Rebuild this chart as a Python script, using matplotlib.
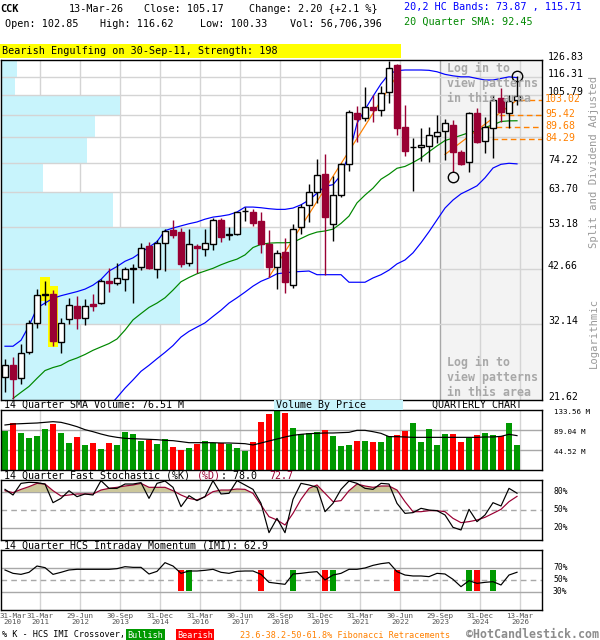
import numpy as np
import matplotlib
matplotlib.use("Agg")
import matplotlib.pyplot as plt
import matplotlib.transforms as mtransforms
from matplotlib.patches import Rectangle

plt.rcParams["font.family"] = ["DejaVu Sans Mono", "DejaVu Sans"]

# ---------------- CCK quarterly data, Q1 2010 .. Q1 2026 ----------------
opens = [24.4, 26.0, 24.2, 27.7, 32.3, 37.3, 37.5, 29.2, 32.9, 35.3,
         33.2, 35.6, 35.9, 40.2, 39.8, 40.5, 42.8, 43.1, 48.2, 42.8,
         49.0, 52.4, 51.9, 44.2, 48.1, 47.4, 48.6, 55.2, 51.0, 51.2,
         57.7, 57.5, 54.9, 48.8, 43.1, 46.6, 39.4, 53.3, 59.7, 63.7,
         70.0, 53.9, 62.8, 74.0, 96.3, 93.8, 99.5, 97.8, 107.1, 123.5,
         89.7, 80.5, 80.8, 81.1, 85.4, 87.5, 90.3, 78.7, 74.7, 96.1,
         83.1, 89.0, 104.0, 96.4, 102.85]
highs = [26.7, 27.0, 29.0, 32.8, 38.5, 40.2, 38.3, 33.1, 36.7, 37.1,
         36.5, 37.5, 40.6, 42.9, 44.0, 43.1, 43.8, 48.9, 49.3, 49.7,
         52.7, 55.2, 52.9, 52.6, 48.8, 52.6, 55.7, 55.7, 53.2, 57.6,
         59.0, 58.3, 57.4, 52.4, 47.2, 50.2, 54.1, 60.0, 66.4, 75.8,
         77.7, 69.3, 74.3, 97.8, 100.0, 110.0, 105.8, 110.5, 126.2, 124.5,
         100.4, 84.4, 89.0, 89.4, 95.3, 93.2, 92.8, 79.4, 96.9, 98.7,
         94.4, 105.8, 109.4, 105.8, 116.62]
lows = [22.5, 21.7, 23.5, 27.4, 31.5, 35.4, 28.6, 27.6, 32.1, 31.3,
        31.9, 34.3, 35.6, 37.9, 39.3, 38.2, 35.9, 42.5, 42.8, 40.8,
        42.3, 50.2, 43.1, 43.5, 41.8, 45.8, 47.2, 49.3, 49.7, 51.0,
        54.9, 53.5, 46.5, 41.0, 38.6, 37.7, 38.8, 51.4, 54.7, 60.4,
        41.5, 49.4, 62.3, 71.3, 82.9, 92.4, 92.0, 94.9, 101.3, 85.8,
        77.0, 64.1, 74.8, 74.6, 82.4, 75.4, 70.8, 73.4, 70.8, 82.4,
        78.0, 76.2, 92.0, 89.0, 100.33]
closes = [26.0, 24.1, 27.6, 32.2, 37.3, 37.5, 29.4, 32.3, 35.5, 33.1,
          35.3, 35.3, 40.1, 39.7, 40.7, 42.7, 43.0, 47.8, 42.9, 49.0,
          52.1, 50.9, 43.9, 48.8, 47.7, 49.0, 55.2, 50.6, 51.2, 57.4,
          57.9, 54.3, 48.6, 43.1, 46.5, 40.0, 52.6, 59.1, 63.7, 69.6,
          56.0, 62.8, 73.7, 96.9, 93.2, 99.3, 97.8, 107.0, 121.5, 89.0,
          79.0, 80.8, 81.5, 85.8, 87.2, 91.3, 78.7, 74.0, 96.1, 82.6,
          89.4, 103.0, 96.9, 102.6, 105.17]

# volume in millions of shares and its 14-quarter average
volume_m = [87.6, 103.9, 83.1, 72.0, 76.4, 92.0, 102.4, 82.4, 60.1, 73.5,
            55.7, 60.1, 47.5, 60.1, 55.7, 84.6, 80.1, 64.6, 66.8, 57.9,
            69.0, 51.2, 44.5, 49.0, 58.6, 64.6, 60.8, 60.8, 57.9, 49.0,
            43.0, 62.3, 106.8, 124.7, 133.6, 126.9, 93.5, 80.1, 82.4, 84.6,
            89.0, 75.7, 53.4, 55.7, 65.3, 65.3, 62.3, 62.3, 75.7, 77.9,
            87.6, 104.6, 62.3, 92.0, 55.7, 80.1, 80.1, 62.3, 72.0, 77.9,
            82.4, 77.9, 76.4, 104.6, 56.7]
volume_sma_m = [100.2, 102.4, 103.1, 103.9, 104.6, 106.1, 107.6, 106.1, 101.7, 96.5,
                89.8, 85.3, 80.1, 75.7, 72.7, 70.5, 69.7, 69.0, 68.3, 67.5,
                66.0, 65.3, 63.1, 60.8, 60.8, 60.8, 60.8, 60.1, 60.1, 59.4,
                58.6, 55.7, 60.1, 64.6, 69.0, 73.5, 77.2, 79.4, 80.9, 81.6,
                82.4, 82.4, 83.1, 83.8, 88.3, 88.3, 85.3, 81.6, 74.2, 74.2,
                73.5, 72.7, 72.7, 72.7, 72.7, 72.7, 72.7, 72.7, 72.7, 72.7,
                73.5, 73.5, 74.9, 79.4, 76.51]

# 20,2 HC bands and 20-quarter SMA
upper_band = [28.6, 28.6, 29.5, 31.8, 34.9, 35.8, 36.7, 37.2, 37.6, 38.0,
              38.5, 39.3, 40.5, 42.3, 43.3, 44.5, 45.3, 46.6, 47.9, 49.3,
              52.2, 52.9, 53.5, 54.1, 54.6, 55.4, 56.0, 56.3, 56.7, 57.5,
              59.0, 59.0, 58.8, 58.5, 58.3, 58.3, 58.7, 59.7, 61.2, 63.4,
              65.7, 66.3, 69.7, 77.6, 91.2, 98.0, 105.0, 112.0, 118.0, 120.0,
              120.4, 120.4, 120.4, 120.2, 119.3, 117.7, 116.8, 116.2, 116.2, 115.2,
              114.3, 114.3, 115.2, 116.2, 115.71]
lower_band = [np.nan] * 13 + [
              20.9, 21.9, 23.0, 24.0, 25.1, 25.9, 26.8, 27.7, 28.7, 30.0,
              30.9, 31.6, 32.3, 33.4, 34.5, 35.8, 36.8, 37.9, 39.1, 40.1,
              40.8, 41.7, 41.9, 42.1, 42.2, 42.3, 41.5, 41.5, 41.5, 41.5,
              39.9, 39.9, 39.9, 40.8, 41.5, 42.5, 43.9, 44.8, 46.5, 49.0,
              51.9, 55.2, 58.7, 61.2, 63.2, 64.5, 65.9, 68.7, 72.3, 73.7,
              74.1, 73.87]
sma20 = [np.nan, 21.8, 22.5, 23.2, 24.2, 25.2, 25.6, 25.9, 26.5, 26.9,
         27.4, 28.0, 28.5, 29.0, 29.7, 31.1, 32.8, 33.9, 35.0, 35.8,
         36.8, 38.3, 40.0, 40.9, 41.7, 42.3, 42.9, 43.7, 44.4, 45.0,
         46.0, 47.8, 48.6, 48.9, 49.0, 49.0, 49.1, 50.1, 51.1, 51.8,
         52.1, 52.6, 54.2, 56.3, 60.3, 62.8, 65.1, 68.2, 70.0, 72.2,
         72.9, 74.4, 76.2, 78.7, 81.1, 83.4, 84.5, 85.7, 86.9, 87.8,
         89.3, 90.5, 92.1, 92.4, 92.45]

# 14-quarter fast stochastic and HCS intraday momentum
stoch_k = [84.4, 75.0, 94.4, 96.1, 95.6, 93.3, 62.2, 69.4, 82.2, 72.2,
           76.7, 75.0, 98.9, 86.1, 86.1, 93.3, 93.3, 95.6, 69.4, 94.4,
           98.3, 87.8, 55.6, 73.9, 65.6, 72.2, 98.9, 76.7, 77.8, 98.9,
           91.7, 84.4, 61.1, 12.2, 36.1, 12.2, 67.8, 94.4, 91.7, 87.8,
           47.2, 61.1, 84.4, 98.3, 94.4, 86.1, 84.4, 94.4, 93.3, 61.1,
           44.4, 45.6, 52.8, 50.0, 48.9, 41.7, 21.1, 16.7, 51.1, 30.6,
           41.7, 62.2, 56.7, 86.1, 78.0]
stoch_d = [82.2, 78.9, 84.4, 88.9, 94.4, 93.3, 82.2, 73.3, 75.0, 76.7,
           76.7, 76.7, 83.3, 86.1, 87.8, 90.0, 91.7, 94.4, 87.8, 87.8,
           87.8, 82.2, 75.0, 69.4, 66.7, 72.2, 80.6, 83.3, 83.3, 85.0,
           84.4, 77.8, 58.3, 38.9, 33.3, 25.0, 44.4, 67.8, 86.1, 91.7,
           77.8, 63.9, 65.6, 82.2, 93.3, 90.0, 87.8, 90.0, 90.0, 83.3,
           63.9, 47.2, 47.2, 48.9, 48.9, 47.2, 36.1, 28.9, 30.6, 33.3,
           37.8, 44.4, 51.1, 63.9, 72.7]
imi = [66.7, 61.1, 59.4, 62.8, 73.3, 70.6, 59.4, 62.8, 66.7, 67.8,
       67.8, 67.8, 67.8, 67.8, 68.9, 72.2, 71.1, 71.1, 60.0, 64.4,
       78.9, 73.3, 61.1, 65.0, 65.0, 66.1, 67.8, 62.8, 61.1, 64.4,
       65.0, 65.0, 59.4, 46.1, 44.4, 42.8, 60.0, 61.1, 62.8, 63.9,
       50.0, 58.3, 61.1, 67.8, 67.8, 70.0, 74.4, 77.2, 78.9, 63.9,
       58.3, 56.7, 56.7, 55.6, 61.1, 60.0, 51.1, 38.9, 48.9, 44.4,
       46.1, 47.2, 41.7, 58.3, 62.9]
bull_cross = [23, 36, 41, 58, 61]
bear_cross = [22, 32, 40, 49, 59]

# volume by price: share of traded volume per price bin (bottom to top)
vbp_share = [7.9, 17.8, 26.2, 11.2, 4.2, 8.6, 9.4, 11.9, 1.4, 1.6]

# price axis levels and Fibonacci retracements
price_levels = [21.62, 32.14, 42.66, 53.18, 63.70, 74.22, 84.74, 95.26, 105.79, 116.31, 126.83]
price_labels = ["21.62", "32.14", "42.66", "53.18", "63.70", "74.22", "", "", "105.79", "116.31", "126.83"]
fib_levels = [103.02, 95.42, 89.68, 84.29]
fib_start = [64.4, 60.6, 60.2, 59.7]

trend_x = [[33, 49], [55, 64]]
trend_y = [[41.0, 117.0], [77.6, 103.0]]

tick_pos = [0, 4, 9, 14, 19, 24, 29, 34, 39, 44, 49, 54, 59, 64]
tick_labels = ["31-Mar\n2010", "31-Mar\n2011", "29-Jun\n2012", "30-Sep\n2013", "31-Dec\n2014",
               "31-Mar\n2016", "30-Jun\n2017", "28-Sep\n2018", "31-Dec\n2019", "31-Mar\n2021",
               "30-Jun\n2022", "29-Sep\n2023", "31-Dec\n2024", "13-Mar\n2026"]

# ---------------- drawing ----------------
W, H = 600, 640
fig = plt.figure(figsize=(W / 100, H / 100), dpi=100)
fig.patch.set_facecolor("white")

CANDLE_RED = "#990033"
VOL_GREEN = "#009900"
VOL_RED = "#FF0000"
GRID = "#D4D4D4"
GRID_DARK = "#A8A8A8"
CYAN = "#C8F4FC"
ORANGE = "#FF8000"
PX = 0.72  # one pixel in points

n = len(closes)
idx = np.arange(n)
XL = (-0.5, 67.125)
vgrid = [p + 0.375 for p in tick_pos[1:]]


def panel(x0, y0, x1, y1):
    a = fig.add_axes([x0 / W, 1 - y1 / H, (x1 - x0) / W, (y1 - y0) / H])
    a.set_xlim(*XL)
    a.set_xticks([])
    a.set_yticks([])
    for s in a.spines.values():
        s.set_linewidth(1.4 * PX)
        s.set_color("black")
        s.set_zorder(20)
    return a


def ftext(x, y, s, **kw):
    kw.setdefault("va", "center")
    return fig.text(x / W, 1 - y / H, s, **kw)


# ---- header ----
ftext(0, 9, "CCK", fontsize=7.4, fontweight="bold")
ftext(69, 9, "13-Mar-26", fontsize=7.3)
ftext(144, 9, "Close: 105.17", fontsize=7.3)
ftext(249, 9, "Change: 2.20 {+2.1 %}", fontsize=7.3)
ftext(5, 24, "Open: 102.85", fontsize=7.3)
ftext(100, 24, "High: 116.62", fontsize=7.3)
ftext(200, 24, "Low: 100.33", fontsize=7.3)
ftext(290, 24, "Vol: 56,706,396", fontsize=7.3)
ftext(404, 7, "20,2 HC Bands: 73.87 , 115.71", fontsize=7.3, color="#0000FF")
ftext(404, 22, "20 Quarter SMA: 92.45", fontsize=7.3, color="#008800")
fig.patches.append(Rectangle((0, 1 - 58 / H), 401 / W, 13.5 / H, transform=fig.transFigure,
                             facecolor="#FFFF00", edgecolor="none", zorder=0))
ftext(2, 51.5, "Bearish Engulfing on 30-Sep-11, Strength: 198", fontsize=7.3)

# ---- main price panel ----
ax = panel(1, 60, 542, 400)
ax.set_yscale("log")
ax.set_ylim(price_levels[0], price_levels[-1])
ax.yaxis.set_minor_locator(matplotlib.ticker.NullLocator())
ax.set_yticks([])

blend = mtransforms.blended_transform_factory(ax.transAxes, ax.transData)
xaxis_frac = mtransforms.blended_transform_factory(ax.transData, ax.transAxes)

# shaded area at the right
ax.add_patch(Rectangle((54.375, 0), XL[1] - 54.375, 1, transform=xaxis_frac,
                       facecolor="#F3F3F3", edgecolor="none", zorder=0.2))
for g in vgrid:
    ax.axvline(g, color=GRID_DARK if g == 54.375 else GRID, lw=1.4 * PX, zorder=0.5)

# volume by price bins
vmax = max(vbp_share)
for k, share in enumerate(vbp_share):
    lo, hi = price_levels[k], price_levels[k + 1]
    ax.add_patch(Rectangle((0, lo), share / vmax * 0.486, hi - lo, transform=blend,
                           facecolor=CYAN, edgecolor="none", zorder=0.8))
for lv in price_levels[1:-1]:
    ax.axhline(lv, color=GRID, lw=1.4 * PX, zorder=1)

# highlighted engulfing pattern
for j in (5, 6):
    ax.add_patch(Rectangle((j - 0.62, lows[j] * (0.995 if j == 6 else 1.02)), 1.24,
                           highs[j] * 1.02 - lows[j] * (0.995 if j == 6 else 1.02),
                           facecolor="#FFFF00", edgecolor="none", zorder=1.2))

# indicator lines
ax.plot(idx, upper_band, color="#0000FF", lw=1.2 * PX, zorder=2)
ax.plot(idx, lower_band, color="#0000FF", lw=1.2 * PX, zorder=2)
ax.plot(idx, sma20, color="#008800", lw=1.2 * PX, zorder=2)
for tx, ty in zip(trend_x, trend_y):
    ax.plot(tx, ty, color=ORANGE, lw=1.2 * PX, zorder=2.5)
for lv, xs in zip(fib_levels, fib_start):
    ax.plot([xs, XL[1]], [lv, lv], color=ORANGE, lw=1.4 * PX, ls=(0, (4, 2.5)), zorder=2.5)

# candles
bw = 0.66
for i in idx:
    o, h, l, c = opens[i], highs[i], lows[i], closes[i]
    up = c >= o
    col = "black" if up else CANDLE_RED
    ax.plot([i, i], [l, h], color=col, lw=1.4 * PX, zorder=3, solid_capstyle="butt")
    bot, top = min(o, c), max(o, c)
    ax.add_patch(Rectangle((i - bw / 2, bot), bw, top - bot,
                           facecolor="white" if up else CANDLE_RED,
                           edgecolor=col, lw=1.4 * PX, zorder=4))

# pattern circles
low_off = mtransforms.offset_copy(ax.transData, fig=fig, y=-5, units="dots")
ax.plot([56], [lows[56]], marker="o", ms=7.5, mfc="none", mec="black", mew=1.0, transform=low_off, zorder=5)
ax.plot([64], [highs[64]], marker="o", ms=7.5, mfc="none", mec="black", mew=1.0, zorder=5)

for ty in (62, 356):
    ax.text(446 / 541, 1 - (ty - 60) / 340, "Log in to\nview patterns\nin this area",
            transform=ax.transAxes, fontsize=8.4, fontweight="bold", color="#A8A8A8",
            va="top", ha="left", linespacing=1.2, zorder=6)

# price labels on the right
for lv, lab in zip(price_levels, price_labels):
    if lab:
        ax.annotate(lab, (1, lv), xycoords=blend, xytext=(6, 3), textcoords="offset pixels",
                    fontsize=7.1, va="center", ha="left", annotation_clip=False)
for lv in fib_levels:
    ax.annotate(f"{lv:.2f}", (1, lv), xycoords=blend, xytext=(3, 1), textcoords="offset pixels",
                fontsize=7.1, va="center", ha="left", color=ORANGE, annotation_clip=False)

ftext(594, 162, "Split and Dividend Adjusted", fontsize=7.6, rotation=90, color="#999999",
      ha="center")
ftext(594, 333, "Logarithmic", fontsize=7.6, rotation=90, color="#999999", ha="center")

# ---- volume panel ----
ftext(4, 405, "14 Quarter SMA Volume: 76.51 M", fontsize=7.2)
fig.patches.append(Rectangle((274 / W, 1 - 410 / H), 129 / W, 10 / H, transform=fig.transFigure,
                             facecolor=CYAN, edgecolor="none", zorder=0))
ftext(276, 405, "Volume By Price", fontsize=7.2)
ftext(432, 405, "QUARTERLY CHART", fontsize=7.2)

axv = panel(1, 410, 542, 470)
axv.set_ylim(0, 133.56)
for g in vgrid:
    axv.axvline(g, color=GRID, lw=1.4 * PX, zorder=0.5)
for lv in (44.52, 89.04):
    axv.axhline(lv, color=GRID_DARK, lw=1.4 * PX, zorder=0.6)
vcols = [VOL_GREEN if c >= o else VOL_RED for o, c in zip(opens, closes)]
axv.bar(idx, volume_m, width=0.72, color=vcols, zorder=2)
axv.plot(idx, volume_sma_m, color="black", lw=1.2 * PX, zorder=3)
for lv, lab in zip((133.56, 89.04, 44.52), ("133.56 M", "89.04 M", "44.52 M")):
    ftext(554, 470 - lv / 133.56 * 60 + 1.5, lab, fontsize=5.4)

# ---- stochastic panel ----
ftext(4, 476, "14 Quarter Fast Stochastic (%K) ", fontsize=7.2)
ftext(4 + 32 * 6.02, 476, "(%D)", fontsize=7.2, color=CANDLE_RED)
ftext(4 + 36 * 6.02, 476, ": 78.0", fontsize=7.2)
ftext(4 + 44 * 6.02, 476, "72.7", fontsize=7.2, color=CANDLE_RED)

axs = panel(1, 480, 542, 540)
axs.set_ylim(0, 100)
for g in vgrid:
    axs.axvline(g, color=GRID, lw=1.4 * PX, zorder=0.5)
for lv in (20, 80):
    axs.axhline(lv, color=GRID_DARK, lw=1.4 * PX, zorder=0.6)
axs.axhline(50, color=GRID_DARK, lw=1.4 * PX, ls=(0, (4, 3)), zorder=0.6)
d = np.array(stoch_d)
axs.fill_between(idx, 80, d, where=d > 80, interpolate=True, color="#CCC79B", lw=0, zorder=1)
axs.plot(idx, stoch_k, color="black", lw=1.2 * PX, zorder=3)
axs.plot(idx, stoch_d, color=CANDLE_RED, lw=1.2 * PX, zorder=2)
for lv in (80, 50, 20):
    ftext(553, 540 - lv * 0.6, f"{lv}%", fontsize=5.8)

# ---- IMI panel ----
ftext(4, 546, "14 Quarter HCS Intraday Momentum (IMI): 62.9", fontsize=7.2)
axi = panel(1, 550, 542, 610)
axi.set_ylim(0, 100)
for g in vgrid:
    axi.axvline(g, color=GRID, lw=1.4 * PX, zorder=0.5)
for lv in (30, 70):
    axi.axhline(lv, color=GRID_DARK, lw=1.4 * PX, zorder=0.6)
axi.axhline(50, color=GRID_DARK, lw=1.4 * PX, ls=(0, (4, 3)), zorder=0.6)
for j in bull_cross:
    axi.add_patch(Rectangle((j - 0.38, 32), 0.76, 35, facecolor=VOL_GREEN, edgecolor="none", zorder=1))
for j in bear_cross:
    axi.add_patch(Rectangle((j - 0.38, 32), 0.76, 35, facecolor=VOL_RED, edgecolor="none", zorder=1))
axi.plot(idx, imi, color="black", lw=1.2 * PX, zorder=3)
for lv in (70, 50, 30):
    ftext(553, 610 - lv * 0.6, f"{lv}%", fontsize=5.8)

# ---- date labels ----
for p, lab in zip(tick_pos, tick_labels):
    xpix = 1 + (p + 0.375 - XL[0]) / (XL[1] - XL[0]) * 541 if p else 12.5
    ftext(xpix, 619, lab, fontsize=5.4, ha="center", color="#555555", linespacing=1.15)

# ---- legend line ----
ftext(2, 635, "% K - HCS IMI Crossover,", fontsize=6.1)
ftext(145.5, 635, "Bullish", fontsize=6.1, color="white", ha="center",
      bbox=dict(boxstyle="square,pad=0.15", facecolor=VOL_GREEN, edgecolor="none"))
ftext(195, 635, "Bearish", fontsize=6.1, color="white", ha="center",
      bbox=dict(boxstyle="square,pad=0.15", facecolor=VOL_RED, edgecolor="none"))
ftext(240, 635, "23.6-38.2-50-61.8% Fibonacci Retracements", fontsize=6.1, color=ORANGE)
ftext(599, 634, "\u00a9HotCandlestick.com", fontsize=8.4, fontweight="bold", color="#8C8C8C",
      ha="right")

fig.savefig("out.png", dpi=100)
